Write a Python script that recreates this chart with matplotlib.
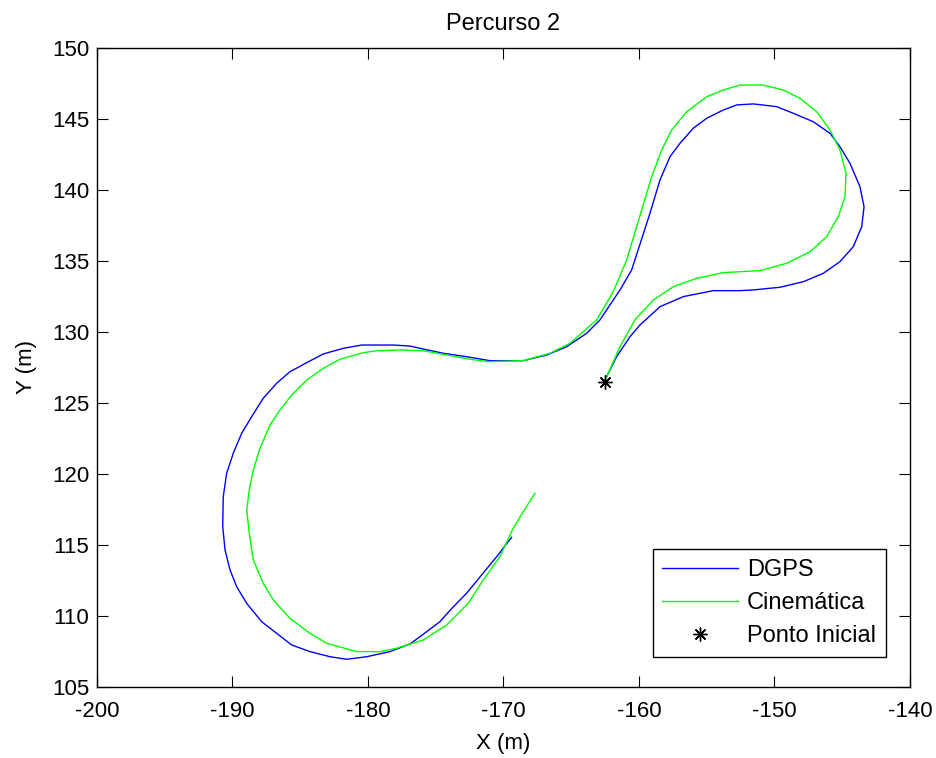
import matplotlib
matplotlib.use("Agg")
import matplotlib.pyplot as plt

plt.rcParams["font.family"] = ["Liberation Sans", "DejaVu Sans"]
plt.rcParams["axes.unicode_minus"] = False

# DGPS track (blue), from the starting point
dgps_x = [-162.56, -162.51, -161.65, -160.66, -159.93, -158.45, -156.73, -154.52,
          -152.55, -151.56, -149.59, -147.87, -146.40, -145.17, -144.18, -143.56,
          -143.39, -143.69, -144.43, -145.17, -145.90, -147.14, -148.61, -149.84,
          -151.56, -152.79, -153.78, -155.00, -155.99, -156.97, -157.71, -158.45,
          -159.19, -160.54, -161.40, -162.88, -163.86, -165.34, -166.81, -168.54,
          -171.00, -172.72, -174.44, -176.16, -176.90, -178.13, -180.46, -181.82,
          -183.30, -184.52, -185.76, -186.74, -187.73, -188.58, -189.32, -189.94,
          -190.43, -190.68, -190.72, -190.55, -190.18, -189.69, -188.95, -187.85,
          -186.74, -185.63, -184.28, -182.80, -181.57, -180.10, -178.38, -176.90,
          -176.16, -174.69, -173.70, -172.72, -171.61, -170.50, -169.40]
dgps_y = [126.43, 126.62, 128.26, 129.67, 130.49, 131.78, 132.49, 132.91,
          132.91, 132.96, 133.15, 133.54, 134.13, 134.95, 136.01, 137.42,
          138.82, 140.23, 141.88, 143.05, 143.99, 144.81, 145.40, 145.87,
          146.06, 145.99, 145.63, 145.05, 144.35, 143.29, 142.35, 140.70,
          138.36, 134.37, 132.96, 130.85, 129.91, 128.96, 128.38, 127.98,
          127.98, 128.26, 128.50, 128.85, 129.01, 129.08, 129.08, 128.85,
          128.45, 127.84, 127.20, 126.39, 125.33, 124.04, 122.87, 121.46,
          120.05, 118.40, 116.29, 114.65, 113.24, 112.06, 110.89, 109.60,
          108.78, 107.96, 107.49, 107.13, 106.95, 107.13, 107.49, 108.03,
          108.54, 109.60, 110.65, 111.60, 112.89, 114.18, 115.54]

# Cinematica track (green), from the starting point
cin_x = [-162.56, -162.38, -161.40, -160.30, -158.94, -157.47, -155.74, -153.78,
         -151.07, -149.10, -147.38, -146.15, -145.29, -144.80, -144.72, -145.17,
         -145.90, -146.89, -148.12, -149.35, -150.83, -152.55, -153.78, -155.00,
         -156.48, -157.59, -158.32, -159.06, -159.80, -160.91, -161.90, -163.12,
         -165.09, -166.57, -168.54, -171.12, -172.47, -174.19, -175.92, -177.64,
         -179.36, -180.35, -182.07, -183.30, -184.52, -185.63, -186.49, -187.23,
         -187.97, -188.46, -188.76, -188.95, -188.76, -188.46, -187.73, -186.99,
         -185.76, -184.28, -183.05, -180.83, -179.11, -177.88, -175.92, -174.19,
         -172.60, -171.49, -170.26, -169.28, -168.54, -167.68]
cin_y = [126.43, 126.85, 128.96, 130.85, 132.25, 133.19, 133.78, 134.18,
         134.32, 134.84, 135.65, 136.71, 138.12, 139.53, 141.18, 142.82,
         144.23, 145.51, 146.46, 147.04, 147.39, 147.39, 147.04, 146.57,
         145.51, 144.23, 142.82, 140.94, 138.59, 135.07, 132.84, 130.85,
         129.20, 128.50, 127.98, 127.91, 128.08, 128.38, 128.68, 128.73,
         128.68, 128.54, 128.08, 127.44, 126.62, 125.56, 124.51, 123.45,
         121.81, 120.28, 118.87, 117.46, 115.82, 113.94, 112.30, 111.13,
         109.84, 108.78, 108.08, 107.49, 107.49, 107.73, 108.31, 109.37,
         110.89, 112.54, 114.18, 116.18, 117.35, 118.64]

start_x = [-162.5]
start_y = [126.45]

fig = plt.figure(figsize=(9.36, 7.58), dpi=100)
ax = fig.add_axes([0.1036, 0.0937, 0.8686, 0.843])

ax.plot(dgps_x, dgps_y, color=(0, 0, 1), linewidth=1.0, label="DGPS")
ax.plot(cin_x, cin_y, color=(0, 1, 0), linewidth=1.0, label="Cinemática")
ax.plot(start_x, start_y, linestyle="none", marker=(8, 2, 0), markersize=10,
        color="black", markeredgewidth=1.0, label="Ponto Inicial")

ax.set_xlim(-200, -140)
ax.set_ylim(105, 150)
ax.set_xticks(range(-200, -139, 10))
ax.set_yticks(range(105, 151, 5))
ax.tick_params(direction="in", top=True, right=True, length=8, width=0.8,
               labelsize=16)
ax.tick_params(axis="x", pad=10)
ax.tick_params(axis="y", pad=5.5)
for sp in ax.spines.values():
    sp.set_linewidth(1.0)

ax.set_title("Percurso 2", fontsize=17, pad=13)
ax.set_xlabel("X (m)", fontsize=16, labelpad=8)
ax.set_ylabel("Y (m)", fontsize=16, labelpad=11)

leg = ax.legend(loc="lower right", bbox_to_anchor=(0.97, 0.047), fontsize=17,
                frameon=True, fancybox=False, framealpha=1, edgecolor="black",
                handlelength=3.2, borderaxespad=0, borderpad=0.4,
                labelspacing=0.48, handletextpad=0.4)
leg.get_frame().set_linewidth(1.0)

fig.savefig("out.png", dpi=100)
